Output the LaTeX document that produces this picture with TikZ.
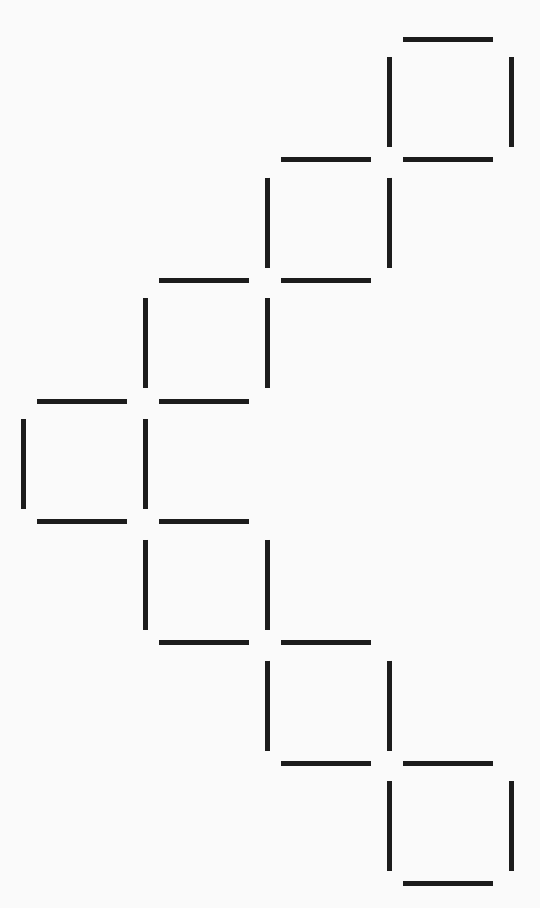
\documentclass[tikz,border=0pt]{standalone}
\definecolor{paper}{RGB}{250,250,250}
\definecolor{stickcol}{RGB}{28,28,28}
\begin{document}
\begin{tikzpicture}[x=1pt,y=-1pt,
  stick/.style={draw=stickcol,line width=5pt,line cap=butt}]
\fill[paper] (0,0) rectangle (540,908);
\useasboundingbox (0,0) rectangle (540,908);
\pgfmathsetmacro{\xs}{122}
\pgfmathsetmacro{\ys}{120.7}
% horizontal sticks: {column, row line}
\foreach \c/\j in {3/0, 2/1, 3/1, 1/2, 2/2, 0/3, 1/3, 0/4, 1/4, 1/5, 2/5, 2/6, 3/6, 3/7}{
  \pgfmathsetmacro{\xa}{23+\xs*\c+14}
  \pgfmathsetmacro{\xb}{23+\xs*\c+104}
  \pgfmathsetmacro{\yy}{39+\ys*\j}
  \draw[stick] (\xa,\yy) -- (\xb,\yy);
}
% vertical sticks: {column line, row}
\foreach \i/\r in {3/0, 4/0, 2/1, 3/1, 1/2, 2/2, 0/3, 1/3, 1/4, 2/4, 2/5, 3/5, 3/6, 4/6}{
  \pgfmathsetmacro{\xx}{23+\xs*\i}
  \pgfmathsetmacro{\ya}{39+\ys*\r+18}
  \pgfmathsetmacro{\yb}{39+\ys*\r+108}
  \draw[stick] (\xx,\ya) -- (\xx,\yb);
}
\end{tikzpicture}
\end{document}
